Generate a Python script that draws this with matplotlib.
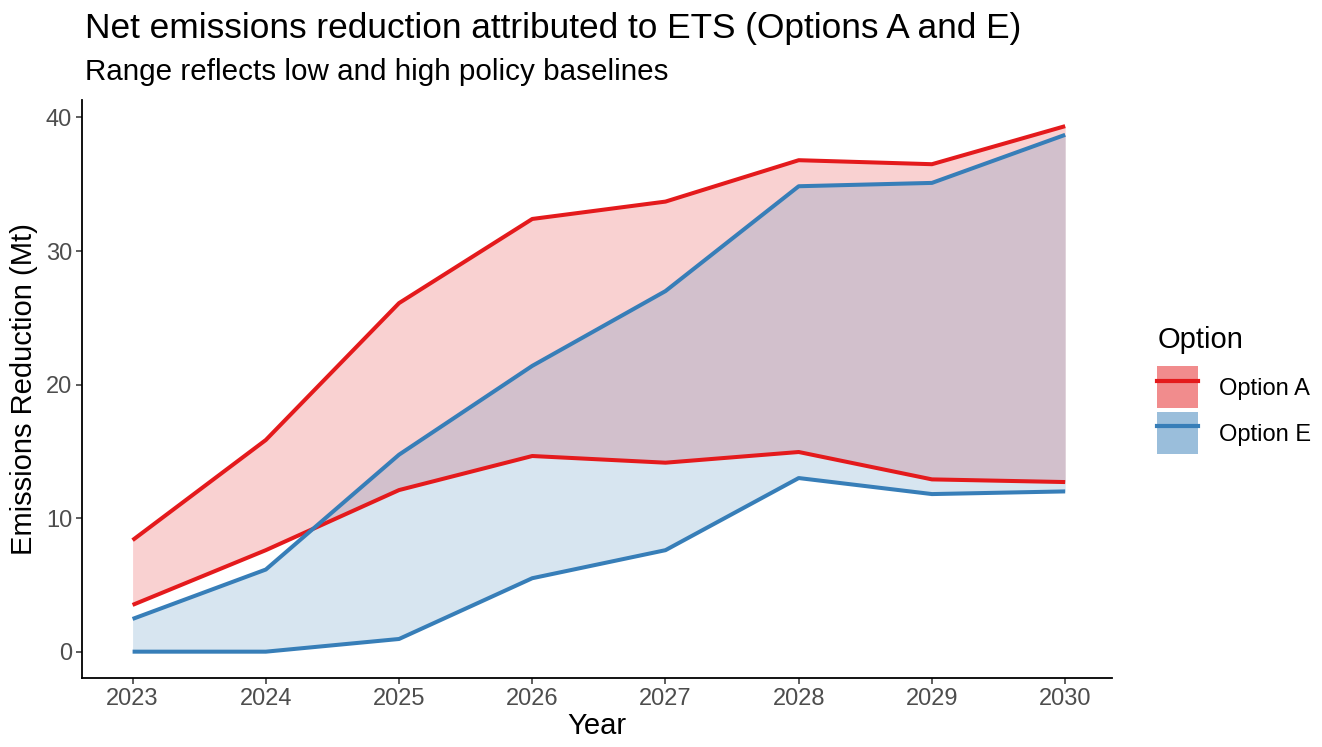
import matplotlib.pyplot as plt
from matplotlib.patches import Patch
from matplotlib.lines import Line2D

plt.rcParams['font.family'] = ['Liberation Sans', 'DejaVu Sans']

years = [2023, 2024, 2025, 2026, 2027, 2028, 2029, 2030]

# Option A (low / high policy baseline)
a_low = [3.5, 7.6, 12.1, 14.65, 14.15, 14.95, 12.9, 12.7]
a_high = [8.35, 15.85, 26.1, 32.4, 33.7, 36.8, 36.5, 39.35]

# Option E
e_low = [0.0, 0.0, 0.95, 5.5, 7.6, 13.0, 11.8, 12.0]
e_high = [2.45, 6.15, 14.75, 21.4, 27.0, 34.85, 35.1, 38.7]

red = "#E41A1C"
blue = "#377EB8"

fig = plt.figure(figsize=(13.22, 7.47), dpi=100)
ax = fig.add_axes([0.062, 0.0924, 0.779, 0.7736])

ax.fill_between(years, a_low, a_high, color=red, alpha=0.2, linewidth=0)
ax.fill_between(years, e_low, e_high, color=blue, alpha=0.2, linewidth=0)
for lo, hi, c in [(a_low, a_high, red), (e_low, e_high, blue)]:
    ax.plot(years, lo, color=c, lw=2.9, solid_capstyle="butt")
    ax.plot(years, hi, color=c, lw=2.9, solid_capstyle="butt")

ax.set_xlim(2022.62, 2030.35)
ax.set_ylim(-1.97, 41.3)
ax.set_xticks(years)
ax.set_yticks([0, 10, 20, 30, 40])
ax.tick_params(labelsize=17, labelcolor="#4D4D4D", length=4, width=1.1, color="#333333", pad=3)
for s in ["top", "right"]:
    ax.spines[s].set_visible(False)
for s in ["left", "bottom"]:
    ax.spines[s].set_linewidth(1.3)

ax.set_xlabel("Year", fontsize=21, labelpad=2)
ax.set_ylabel("Emissions Reduction (Mt)", fontsize=21, labelpad=6)

fig.text(0.064, 0.962, "Net emissions reduction attributed to ETS (Options A and E)",
         fontsize=25.4, va="center")
fig.text(0.064, 0.904, "Range reflects low and high policy baselines",
         fontsize=21.3, va="center")

handles = [(Patch(facecolor=red, alpha=0.5, edgecolor="none"), Line2D([], [], color=red, lw=3)),
           (Patch(facecolor=blue, alpha=0.5, edgecolor="none"), Line2D([], [], color=blue, lw=3))]
leg = fig.legend(handles, ["Option A", "Option E"], title="Option",
                 loc="upper left", bbox_to_anchor=(0.8755, 0.5636),
                 frameon=False, fontsize=17, title_fontsize=21,
                 handlelength=1.72, handleheight=2.35, handletextpad=0.9,
                 labelspacing=0.17, borderaxespad=0, borderpad=0)
leg._legend_box.align = "left"
leg._legend_box.sep = 9

fig.savefig("out.png", dpi=100)
